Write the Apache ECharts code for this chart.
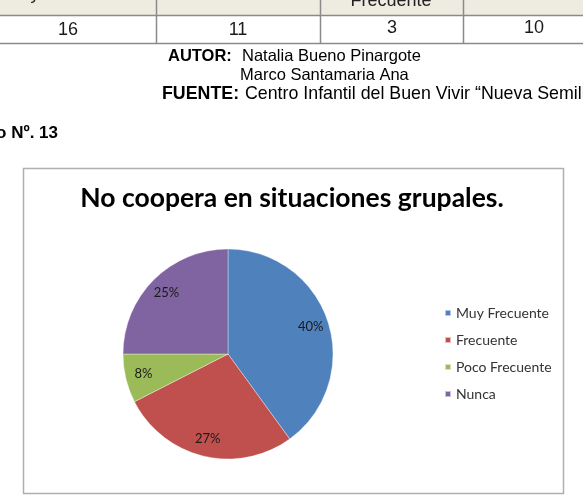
<!DOCTYPE html>
<html>
<head>
<meta charset="utf-8">
<script src="https://cdn.jsdelivr.net/npm/echarts@6/dist/echarts.min.js"></script>
<style>
  html, body { margin: 0; padding: 0; background: #fff; }
</style>
</head>
<body>
<div id="main" style="width:583px;height:502px;"></div>
<script>
const categories = ['Muy Frecuente', 'Frecuente', 'Poco Frecuente', 'Nunca'];
const counts = [16, 11, 3, 10];
const pctLabels = ['40%', '27%', '8%', '25%'];
const colors = ['#4F81BD', '#C0504D', '#9BBB59', '#8064A2'];

const chartTitle = 'No coopera en situaciones grupales.';
const autorLines = ['Natalia Bueno Pinargote', 'Marco Santamaria Ana'];
const fuenteText = 'Centro Infantil del Buen Vivir \u201cNueva Semilla\u201d';
const graficoText = 'Gráfico Nº. 13';

const myChart = echarts.init(document.getElementById('main'));

const bodyFont = '"Liberation Sans", Arial, sans-serif';
const chartFont = 'Lato, "Open Sans", sans-serif';
const lineColor = '#8a8a8a';

// table cell centres (x) for the value row
const colX = [68, 238, 392, 534];

const graphics = [
  // header row background of the table
  { type: 'rect', shape: { x: 0, y: 0, width: 583, height: 15 }, style: { fill: '#EEECE1' }, silent: true },
  { type: 'text', style: { text: 'y', x: 35, y: -6, font: '18px ' + bodyFont, fill: '#222', textAlign: 'center', textVerticalAlign: 'middle' } },
  { type: 'text', style: { text: 'Frecuente', x: 391, y: 1, font: '18px ' + bodyFont, fill: '#222', textAlign: 'center', textVerticalAlign: 'middle' } },
  { type: 'line', shape: { x1: 0, y1: 15.5, x2: 583, y2: 15.5 }, style: { stroke: lineColor, lineWidth: 1.5 } },
  { type: 'line', shape: { x1: 0, y1: 43.5, x2: 583, y2: 43.5 }, style: { stroke: lineColor, lineWidth: 1.5 } },
  { type: 'line', shape: { x1: 156.5, y1: 0, x2: 156.5, y2: 43 }, style: { stroke: lineColor, lineWidth: 1.5 } },
  { type: 'line', shape: { x1: 320.5, y1: 0, x2: 320.5, y2: 43 }, style: { stroke: lineColor, lineWidth: 1.5 } },
  { type: 'line', shape: { x1: 463.5, y1: 0, x2: 463.5, y2: 43 }, style: { stroke: lineColor, lineWidth: 1.5 } },
  ...counts.map((v, i) => ({
    type: 'text',
    style: { text: String(v), x: colX[i], y: i < 2 ? 30 : 28, font: '18px ' + bodyFont, fill: '#1a1a1a', textAlign: 'center', textVerticalAlign: 'middle' }
  })),
  // autor / fuente
  { type: 'text', style: { text: 'AUTOR:', x: 168, y: 56, font: 'bold 16.5px ' + bodyFont, fill: '#000', textVerticalAlign: 'middle' } },
  { type: 'text', style: { text: autorLines[0], x: 242, y: 56, font: '16.5px ' + bodyFont, fill: '#000', textVerticalAlign: 'middle' } },
  { type: 'text', style: { text: autorLines[1], x: 240, y: 75, font: '16.5px ' + bodyFont, fill: '#000', textVerticalAlign: 'middle' } },
  { type: 'text', style: { text: 'FUENTE:', x: 162, y: 94, font: 'bold 17.8px ' + bodyFont, fill: '#000', textVerticalAlign: 'middle' } },
  { type: 'text', style: { text: fuenteText, x: 245, y: 94, font: '17.8px ' + bodyFont, fill: '#000', textVerticalAlign: 'middle' } },
  { type: 'text', style: { text: graficoText, x: 58, y: 133, font: 'bold 17px ' + bodyFont, fill: '#000', textAlign: 'right', textVerticalAlign: 'middle' } },
  // chart frame
  { type: 'rect', z: -1, shape: { x: 23.5, y: 168.5, width: 540, height: 325 }, style: { fill: '#fff', stroke: '#b0b0b0', lineWidth: 1.5 }, silent: true }
];

const pieData = categories.map((name, i) => ({ name: name, value: counts[i], itemStyle: { color: colors[i] } }));

myChart.setOption({
  animation: false,
  title: {
    text: chartTitle,
    left: 287,
    top: 180,
    textAlign: 'center',
    textStyle: { fontFamily: chartFont, fontWeight: 'bold', fontSize: 26.5, color: '#000' }
  },
  legend: {
    orient: 'vertical',
    left: 439,
    top: 301,
    icon: 'rect',
    itemWidth: 6,
    itemHeight: 6,
    itemGap: 13,
    data: categories,
    textStyle: { fontFamily: chartFont, fontSize: 14, color: '#333' }
  },
  graphic: graphics,
  series: [
    {
      type: 'pie',
      center: [228, 354],
      radius: 105,
      startAngle: 90,
      clockwise: true,
      data: pieData,
      itemStyle: { borderColor: 'rgba(255,255,255,0.6)', borderWidth: 0.6 },
      label: { show: false },
      labelLine: { show: false },
      emphasis: { disabled: true }
    },
    {
      // transparent helper ring so the inside labels sit at 0.8 of the radius
      type: 'pie',
      center: [228, 354],
      radius: 168,
      startAngle: 90,
      clockwise: true,
      silent: true,
      data: categories.map((name, i) => ({ name: name, value: counts[i], itemStyle: { color: 'rgba(0,0,0,0)' } })),
      label: {
        show: true,
        position: 'inside',
        formatter: (p) => pctLabels[p.dataIndex],
        fontFamily: chartFont,
        fontSize: 13,
        color: '#1a1a1a'
      },
      labelLine: { show: false },
      emphasis: { disabled: true }
    }
  ]
});
</script>
</body>
</html>
